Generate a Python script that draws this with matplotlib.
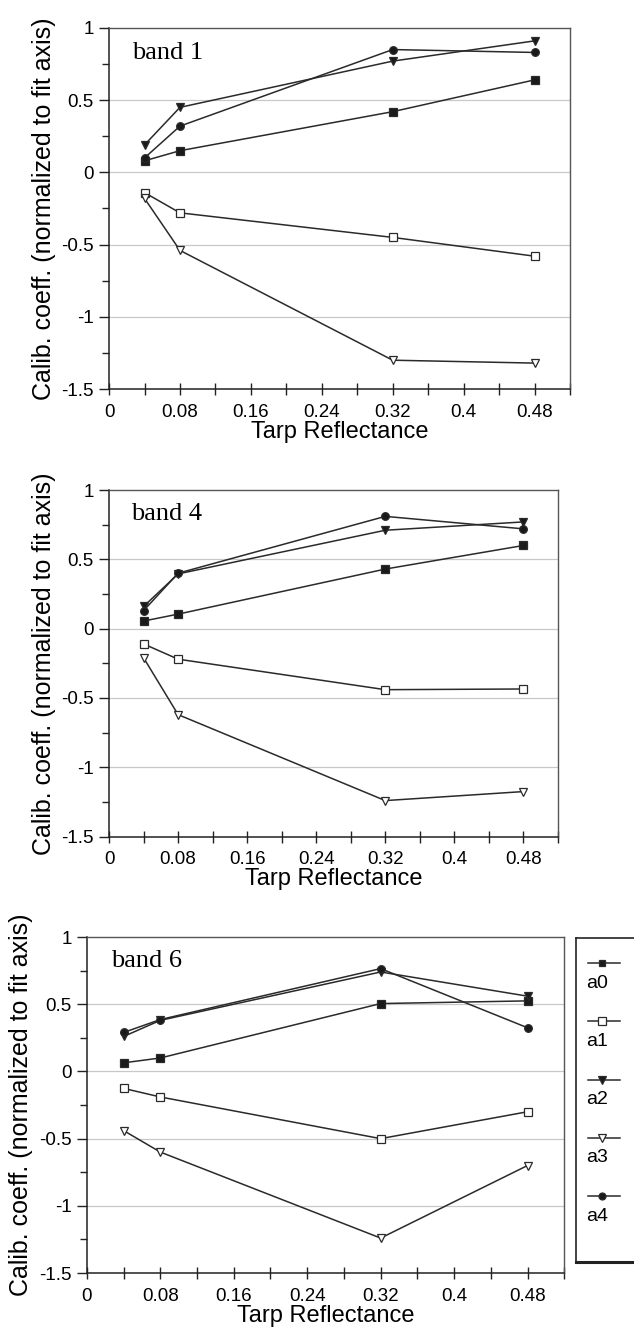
import matplotlib
matplotlib.use("Agg")
import matplotlib.pyplot as plt
from matplotlib.ticker import MultipleLocator, FixedLocator

# --- DATA ---
tarp_refl = [0.04, 0.08, 0.32, 0.48]
series_names = ["a0", "a1", "a2", "a3", "a4"]

band1_a0 = [0.08, 0.15, 0.42, 0.64]
band1_a1 = [-0.14, -0.28, -0.45, -0.58]
band1_a2 = [0.19, 0.45, 0.77, 0.91]
band1_a3 = [-0.18, -0.54, -1.30, -1.32]
band1_a4 = [0.10, 0.32, 0.85, 0.83]

band4_a0 = [0.055, 0.105, 0.43, 0.60]
band4_a1 = [-0.11, -0.22, -0.44, -0.435]
band4_a2 = [0.16, 0.395, 0.71, 0.77]
band4_a3 = [-0.21, -0.62, -1.24, -1.175]
band4_a4 = [0.13, 0.40, 0.81, 0.72]

band6_a0 = [0.064, 0.10, 0.505, 0.525]
band6_a1 = [-0.126, -0.19, -0.50, -0.30]
band6_a2 = [0.26, 0.38, 0.74, 0.56]
band6_a3 = [-0.44, -0.60, -1.24, -0.70]
band6_a4 = [0.29, 0.386, 0.765, 0.325]

bands = [
    ("band 1", [band1_a0, band1_a1, band1_a2, band1_a3, band1_a4]),
    ("band 4", [band4_a0, band4_a1, band4_a2, band4_a3, band4_a4]),
    ("band 6", [band6_a0, band6_a1, band6_a2, band6_a3, band6_a4]),
]

x_ticks = [0, 0.08, 0.16, 0.24, 0.32, 0.4, 0.48]
x_ticklabels = ["0", "0.08", "0.16", "0.24", "0.32", "0.4", "0.48"]
y_ticks = [-1.5, -1, -0.5, 0, 0.5, 1]
y_ticklabels = ["-1.5", "-1", "-0.5", "0", "0.5", "1"]

# --- STYLE ---
styles = {
    "a0": dict(marker="s", mfc="#1a1a1a", ms=5.5),
    "a1": dict(marker="s", mfc="white", ms=6),
    "a2": dict(marker="v", mfc="#1a1a1a", ms=6),
    "a3": dict(marker="v", mfc="white", ms=6),
    "a4": dict(marker="o", mfc="#1a1a1a", ms=5.5),
}
line_col = "#2a2a2a"
sans = ["Liberation Sans", "DejaVu Sans"]
serif = ["Liberation Serif", "DejaVu Serif"]

fig = plt.figure(figsize=(6.34, 13.28), dpi=100)

# axes rects in figure fractions [left, bottom, width, height]
rects = [
    [0.172, 0.707, 0.727, 0.272],
    [0.172, 0.370, 0.708, 0.261],
    [0.137, 0.0414, 0.753, 0.253],
]

for (band_label, vals), rect in zip(bands, rects):
    ax = fig.add_axes(rect)
    for name, yv in zip(series_names, vals):
        st = styles[name]
        ax.plot(tarp_refl, yv, color=line_col, lw=1.1, marker=st["marker"],
                mfc=st["mfc"], mec=line_col, mew=0.9, ms=st["ms"], zorder=3)
    ax.set_xlim(0, 0.52)
    ax.set_ylim(-1.5, 1)
    for g in [-1, -0.5, 0, 0.5]:
        ax.axhline(g, color="#c8c8c8", lw=0.9, zorder=1)

    ax.xaxis.set_major_locator(FixedLocator(x_ticks))
    ax.set_xticklabels(x_ticklabels, family=sans, fontsize=13.5)
    ax.xaxis.set_minor_locator(MultipleLocator(0.04))
    ax.yaxis.set_major_locator(FixedLocator(y_ticks))
    ax.set_yticklabels(y_ticklabels, family=sans, fontsize=13.5)
    ax.yaxis.set_minor_locator(MultipleLocator(0.25))

    ax.tick_params(axis="x", which="both", direction="inout", length=9, width=1.0,
                   color="#222222", pad=6)
    ax.tick_params(axis="y", which="both", direction="out", length=5, width=1.0,
                   color="#222222", pad=4)
    ax.tick_params(axis="y", which="major", length=7)

    for side in ["left", "bottom"]:
        ax.spines[side].set_color("#222222")
        ax.spines[side].set_linewidth(1.1)
    for side in ["top", "right"]:
        ax.spines[side].set_color("#555555")
        ax.spines[side].set_linewidth(1.0)

    ax.set_xlabel("Tarp Reflectance", family=sans, fontsize=17, labelpad=0)
    ax.set_ylabel("Calib. coeff. (normalized to fit axis)", family=sans, fontsize=18,
                  labelpad=4)
    ax.text(0.05, 0.93, band_label, transform=ax.transAxes, family=serif,
            fontsize=19, va="center", ha="left")

# --- LEGEND BOX ---
lax = fig.add_axes([576 / 634, 1 - 1262 / 1328, 80 / 634, 324 / 1328])
lax.set_xlim(0, 1)
lax.set_ylim(0, 1)
lax.set_xticks([])
lax.set_yticks([])
for side in lax.spines:
    lax.spines[side].set_color("#222222")
    lax.spines[side].set_linewidth(1.2)
lax.spines["bottom"].set_linewidth(2.2)
for i, name in enumerate(series_names):
    st = styles[name]
    hy = 0.923 - i * 0.18
    lax.plot([0.15, 0.55], [hy, hy], color=line_col, lw=1.1)
    lax.plot([0.32], [hy], color=line_col, marker=st["marker"], mfc=st["mfc"],
             mec=line_col, mew=0.9, ms=st["ms"] - 0.5)
    lax.text(0.13, hy - 0.062, name, family=sans, fontsize=14,
             va="center", ha="left")

fig.savefig("out.png", dpi=100)
